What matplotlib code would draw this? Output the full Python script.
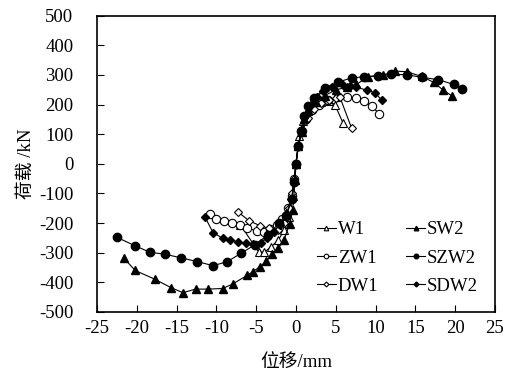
import matplotlib
matplotlib.use("Agg")
import matplotlib.pyplot as plt

plt.rcParams['font.family'] = ['Liberation Serif', 'Noto Sans CJK SC']
plt.rcParams['axes.unicode_minus'] = False

# displacement (mm) / load (kN) skeleton curves
W1_x = [-7.0, -4.7, -4.0, -3.1, -2.2, -1.5, -0.9, -0.4, 0.0, 0.4, 0.9, 1.5, 2.3, 3.2, 4.2, 4.9, 5.9]
W1_y = [-205, -297, -299, -280, -257, -225, -180, -110, 0, 95, 145, 178, 198, 207, 212, 199, 139]

SW2_x = [-21.6, -20.2, -17.7, -15.7, -14.2, -12.6, -11.1, -9.2, -7.9, -6.1, -5.4, -4.5, -3.7, -3.0, -2.2, -1.5, -0.8, -0.4, -0.1,
         0.0, 0.3, 0.7, 1.0, 1.5, 2.5, 3.6, 5.0, 6.4, 7.6, 9.1, 11.0, 12.4, 13.9, 15.8, 17.3, 18.5, 19.6]
SW2_y = [-319, -360, -390, -418, -435, -423, -423, -421, -405, -376, -364, -347, -328, -305, -284, -257, -203, -156, -54,
         0, 60, 108, 150, 180, 210, 230, 250, 258, 268, 294, 300, 313, 311, 295, 275, 249, 229]

ZW1_x = [-10.8, -10.0, -9.0, -8.0, -7.0, -6.1, -4.9, -4.0, -3.2, -2.4, -1.7, -1.0, -0.5, -0.2,
         0.0, 0.3, 0.7, 1.3, 2.0, 2.9, 4.0, 5.3, 6.4, 7.5, 8.5, 9.5, 10.5]
ZW1_y = [-169, -187, -192, -199, -206, -218, -226, -229, -220, -205, -185, -150, -110, -50,
         0, 60, 110, 150, 180, 200, 215, 227, 227, 221, 213, 195, 168]

SZW2_x = [-22.5, -20.2, -18.3, -16.5, -14.5, -12.4, -10.4, -8.6, -6.9, -5.2, -3.5, -2.1, -1.2, -0.5, -0.2,
          0.0, 0.3, 0.6, 1.0, 1.5, 2.3, 3.6, 5.3, 7.0, 8.6, 10.3, 12.0, 13.9, 15.8, 17.9, 19.8, 20.9]
SZW2_y = [-248, -277, -299, -305, -317, -330, -344, -330, -302, -274, -240, -200, -175, -120, -60,
          0, 60, 110, 160, 195, 222, 255, 276, 290, 294, 297, 302, 301, 292, 284, 268, 252]

DW1_x = [-7.3, -5.9, -4.5, -3.4, -2.2, -1.5, -0.9, -0.5, -0.2,
         0.0, 0.3, 0.8, 1.5, 2.3, 3.2, 4.2, 5.0, 5.5, 7.0]
DW1_y = [-162, -192, -209, -218, -225, -200, -150, -100, -50,
         0, 60, 110, 155, 185, 205, 215, 222, 227, 120]

SDW2_x = [-11.4, -10.4, -9.2, -8.3, -7.3, -6.3, -5.4, -4.4, -3.6, -2.8, -2.0, -1.2, -0.6, -0.2,
          0.0, 0.3, 0.7, 1.2, 1.9, 2.6, 3.4, 4.5, 5.9, 6.8, 7.6, 8.9, 9.9, 10.8]
SDW2_y = [-181, -233, -251, -257, -263, -268, -272, -266, -250, -230, -205, -170, -120, -60,
          0, 60, 110, 160, 200, 225, 245, 258, 265, 262, 258, 249, 240, 215]

x_ticks = [-25, -20, -15, -10, -5, 0, 5, 10, 15, 20, 25]
y_ticks = [-500, -400, -300, -200, -100, 0, 100, 200, 300, 400, 500]

fig = plt.figure(figsize=(5.05, 3.74), dpi=100)
ax = fig.add_axes([0.192, 0.166, 0.788, 0.792])

lw = 0.8
ax.plot(W1_x, W1_y, '-', color='black', lw=lw, marker='^', ms=6, mfc='white', mec='black', mew=0.8, label='W1')
ax.plot(ZW1_x, ZW1_y, '-', color='black', lw=lw, marker='o', ms=6, mfc='white', mec='black', mew=0.8, label='ZW1')
ax.plot(DW1_x, DW1_y, '-', color='black', lw=lw, marker='D', ms=4.5, mfc='white', mec='black', mew=0.8, label='DW1')
ax.plot(SW2_x, SW2_y, '-', color='black', lw=lw, marker='^', ms=6, mfc='black', mec='black', label='SW2')
ax.plot(SZW2_x, SZW2_y, '-', color='black', lw=lw, marker='o', ms=6, mfc='black', mec='black', label='SZW2')
ax.plot(SDW2_x, SDW2_y, '-', color='black', lw=lw, marker='D', ms=4.5, mfc='black', mec='black', label='SDW2')

ax.set_xlim(-25, 25)
ax.set_ylim(-500, 500)
ax.set_xticks(x_ticks)
ax.set_yticks(y_ticks)
ax.set_xticklabels([str(v) for v in x_ticks])
ax.set_yticklabels([str(v) for v in y_ticks])
ax.tick_params(direction='in', length=5, width=0.8, labelsize=13.5)
ax.tick_params(axis='x', pad=6)
ax.tick_params(axis='y', pad=17)
for s in ax.spines.values():
    s.set_linewidth(1.2)

ax.set_xlabel('位移/mm', fontsize=13.5, labelpad=12)
ax.set_ylabel('荷载 /kN', fontsize=13.5, labelpad=3)

leg = ax.legend(ncol=2, loc='lower right', bbox_to_anchor=(1.0, 0.0), frameon=False,
                fontsize=13.5, markerscale=0.55, handlelength=1.0, handletextpad=0.1,
                columnspacing=1.5, labelspacing=0.6)

fig.savefig('out.png', dpi=100)
